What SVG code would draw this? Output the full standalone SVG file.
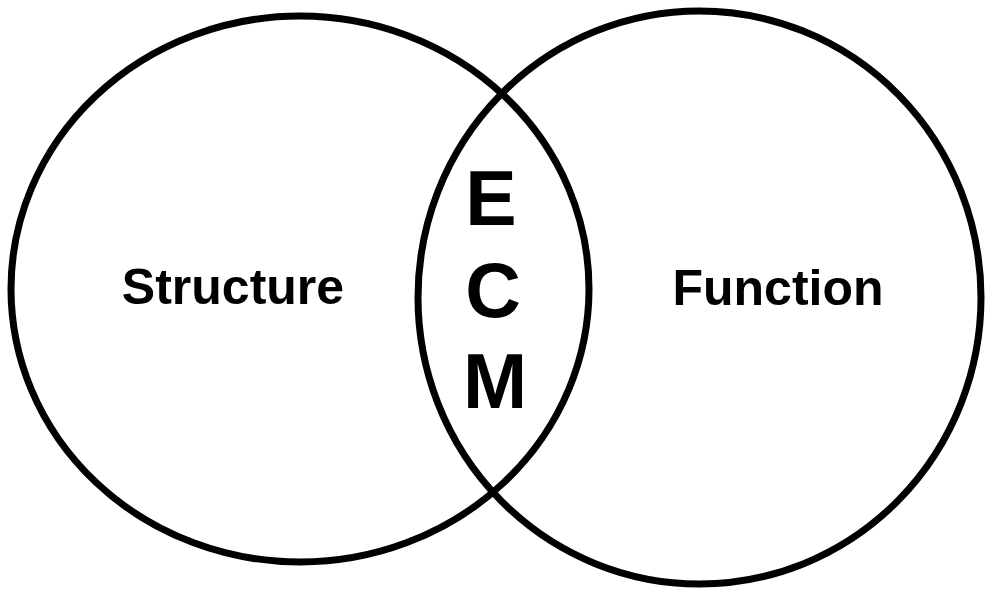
<svg xmlns="http://www.w3.org/2000/svg" width="985" height="591" viewBox="0 0 985 591">
<style>
.c{fill:none;stroke:#000;stroke-width:7}
.t{font-family:"Liberation Sans",Arial,sans-serif;font-weight:bold;fill:#000}
</style>
<rect width="985" height="591" fill="#fff"/>
<g id="structure">
<ellipse class="c" cx="300" cy="289" rx="289" ry="273"/>
<text class="t" x="233" y="304" font-size="50" text-anchor="middle">Structure</text>
</g>
<g id="function">
<ellipse class="c" cx="699.5" cy="297.5" rx="281.5" ry="286.5"/>
<text class="t" x="778" y="305" font-size="50" text-anchor="middle">Function</text>
</g>
<g id="ecm">
<text class="t" x="491" y="225" font-size="77" text-anchor="middle">E</text>
<text class="t" x="493" y="317" font-size="77" text-anchor="middle">C</text>
<text class="t" x="495" y="408" font-size="77" text-anchor="middle">M</text>
</g>
</svg>
